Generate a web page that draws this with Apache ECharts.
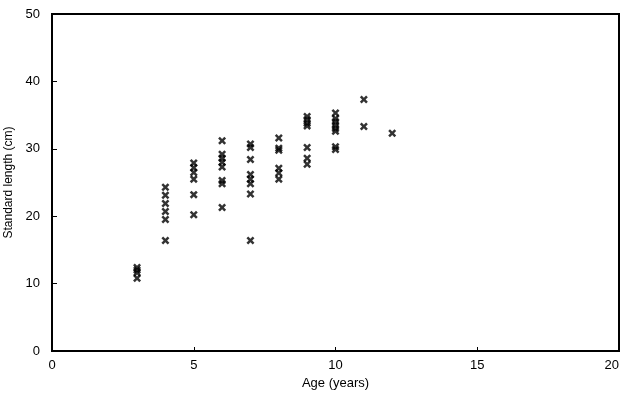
<!DOCTYPE html>
<html>
<head>
<meta charset="utf-8">
<script src="https://cdn.jsdelivr.net/npm/echarts@6/dist/echarts.min.js"></script>
<style>html,body{margin:0;padding:0;background:#fff}#c{width:625px;height:395px}</style>
</head>
<body>
<div id="c"></div>
<script>
const ages = [3, 4, 5, 6, 7, 8, 9, 10, 11, 12];
const lengths3 = [12.4, 12.0, 11.6, 10.8];
const lengths4 = [24.3, 23.1, 21.9, 20.7, 19.5, 16.4];
const lengths5 = [27.9, 27.2, 26.5, 25.5, 23.2, 20.2];
const lengths6 = [31.2, 29.2, 28.6, 28.0, 27.3, 25.3, 24.8, 21.3];
const lengths7 = [30.7, 30.2, 28.4, 26.2, 25.5, 24.8, 23.3, 16.4];
const lengths8 = [31.6, 30.1, 29.8, 27.1, 26.4, 25.5];
const lengths9 = [34.8, 34.3, 33.8, 33.4, 30.2, 28.6, 27.7];
const lengths10 = [35.3, 34.5, 34.0, 33.5, 33.0, 32.6, 30.3, 29.9];
const lengths11 = [37.3, 33.3];
const lengths12 = [32.3];
const xTicks = [0, 5, 10, 15, 20];
const yTicks = [0, 10, 20, 30, 40, 50];

const groups = [lengths3, lengths4, lengths5, lengths6, lengths7, lengths8, lengths9, lengths10, lengths11, lengths12];
const points = [];
groups.forEach((g, i) => g.forEach(v => points.push([ages[i], v])));

const chart = echarts.init(document.getElementById('c'), null, {renderer: 'canvas'});
const font = 'Liberation Sans, Arial, sans-serif';
chart.setOption({
  animation: false,
  backgroundColor: '#fff',
  grid: {left: 52, right: 6, top: 14, bottom: 44, containLabel: false, outerBoundsMode: 'none',
         show: true, borderColor: '#000', borderWidth: 2},
  xAxis: {
    type: 'value', min: xTicks[0], max: xTicks[xTicks.length - 1], interval: 5,
    name: 'Age (years)', nameLocation: 'middle', nameGap: 25,
    nameTextStyle: {color: '#000', fontSize: 13, fontFamily: font},
    axisLine: {show: true, lineStyle: {color: '#000', width: 2}},
    axisTick: {show: true, inside: true, length: 4, lineStyle: {color: '#000', width: 1}},
    axisLabel: {color: '#000', fontSize: 13, fontFamily: font, margin: 8, alignMaxLabel: 'right'},
    splitLine: {show: false}
  },
  yAxis: {
    type: 'value', min: yTicks[0], max: yTicks[yTicks.length - 1], interval: 10,
    name: 'Standard length (cm)', nameLocation: 'middle', nameGap: 36,
    nameTextStyle: {color: '#000', fontSize: 12, fontFamily: font},
    axisLine: {show: true, lineStyle: {color: '#000', width: 2}},
    axisTick: {show: true, inside: true, length: 5, lineStyle: {color: '#000', width: 1}},
    axisLabel: {color: '#000', fontSize: 13, fontFamily: font, margin: 12},
    splitLine: {show: false}
  },
  series: [{
    type: 'scatter',
    data: points,
    symbol: 'path://M0,2.2L2.2,0L5,2.8L7.8,0L10,2.2L7.2,5L10,7.8L7.8,10L5,7.2L2.2,10L0,7.8L2.8,5Z',
    symbolSize: 8,
    itemStyle: {color: '#000'}
  }]
});
</script>
</body>
</html>
